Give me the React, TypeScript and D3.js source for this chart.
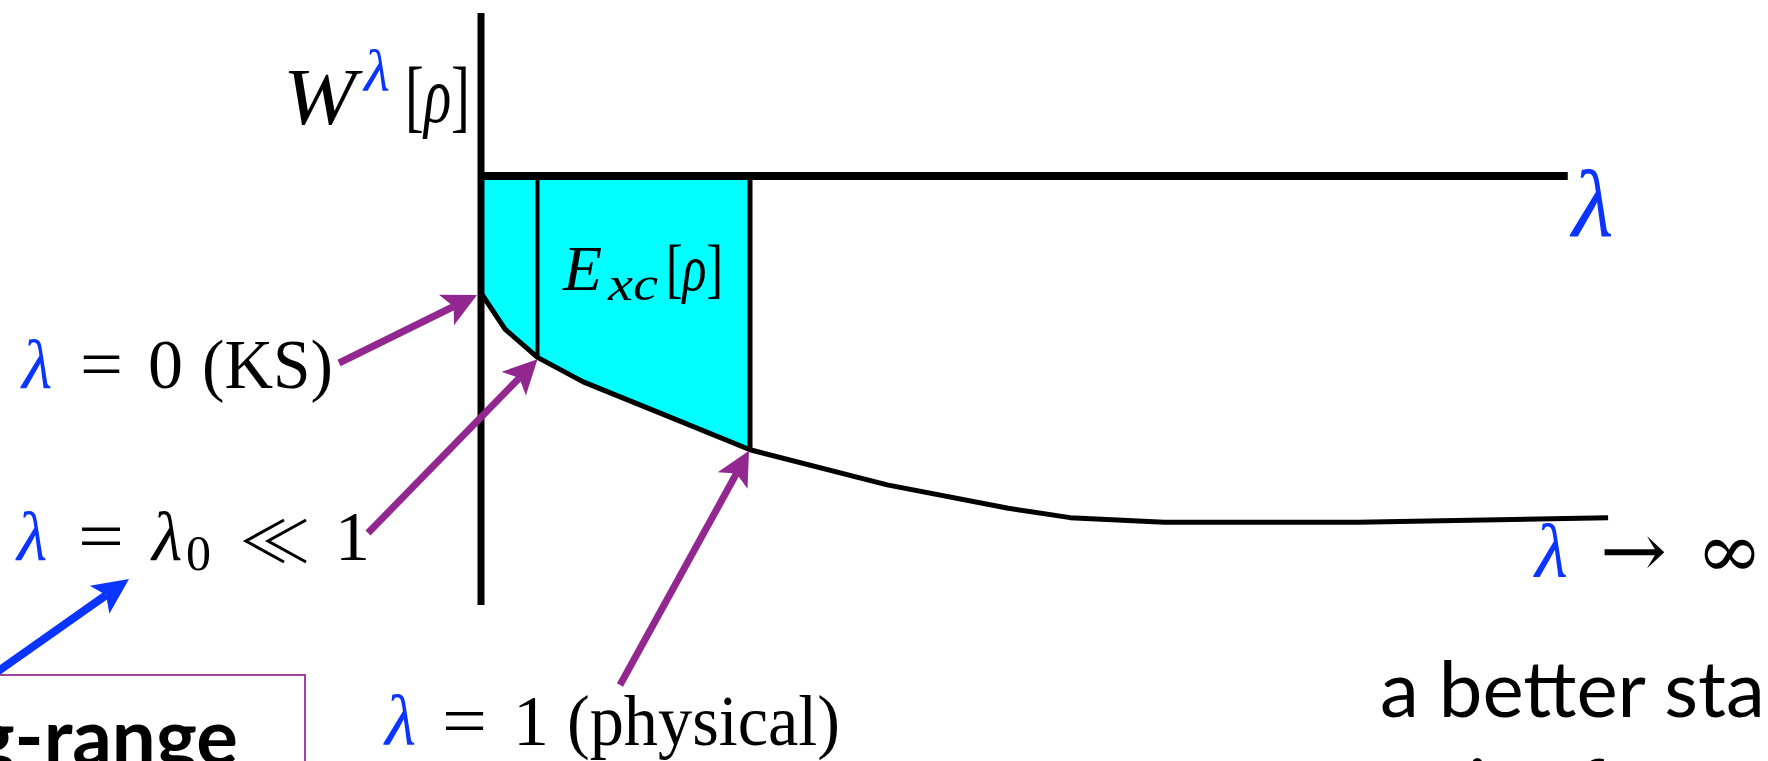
import React from 'react';
import * as d3 from 'd3';

// Adiabatic-connection integrand W^λ[ρ] sampled along the coupling constant λ
const lambdaGrid = [0, 0.09, 0.21, 0.38, 0.68, 1.0, 1.51, 1.96, 2.19, 2.54, 3.26, 4.19];
const wValues = [-1, -1.31, -1.55, -1.76, -2.04, -2.34, -2.64, -2.84, -2.92, -2.96, -2.96, -2.92];

// Marked coupling strengths
const lambdaKS = 0;
const lambdaSmall = 0.21;
const lambdaPhysical = 1.0;
const lambdaAxisEnd = 4.04;

const BLUE = '#0a34ff';
const PURPLE = '#92278f';
const CYAN = '#00ffff';
const MATH = "'Liberation Serif', 'DejaVu Serif', serif";
const SYM = "'DejaVu Serif', 'Liberation Serif', serif";
const SANS = "Lato, 'Open Sans', sans-serif";

const WIDTH = 1768;
const HEIGHT = 761;

type Pt = { l: number; w: number };

function arrow(x1: number, y1: number, x2: number, y2: number, len = 34, half = 17, notch = 8) {
  const dx = x2 - x1;
  const dy = y2 - y1;
  const L = Math.hypot(dx, dy);
  const ux = dx / L;
  const uy = dy / L;
  const px = -uy;
  const py = ux;
  const bx = x2 - ux * len;
  const by = y2 - uy * len;
  const nx = x2 - ux * (len - notch);
  const ny = y2 - uy * (len - notch);
  const head = `M${x2},${y2}L${bx + px * half},${by + py * half}L${nx},${ny}L${bx - px * half},${by - py * half}Z`;
  return { shaft: `M${x1},${y1}L${nx},${ny}`, head };
}

// "≪" drawn as two thin chevrons, as in TeX's \ll
function muchLess(x0: number, yMid: number, w: number, h: number, gap: number) {
  const c = (ox: number) => `M${ox + w},${yMid - h / 2}L${ox},${yMid}L${ox + w},${yMid + h / 2}`;
  return c(x0) + c(x0 + gap);
}

export default function App() {
  const x = d3.scaleLinear().domain([0, 1]).range([481, 750]);
  const y = d3.scaleLinear().domain([0, -1]).range([176, 293]);

  const pts: Pt[] = lambdaGrid.map((l, i) => ({ l, w: wValues[i] }));
  const wAt = (l: number) => pts.find((p) => p.l === l)!.w;

  const line = d3
    .line<Pt>()
    .x((d) => x(d.l))
    .y((d) => y(d.w));
  const area = d3
    .area<Pt>()
    .x((d) => x(d.l))
    .y0(y(0))
    .y1((d) => y(d.w));

  const shaded = pts.filter((p) => p.l <= lambdaPhysical);

  const aKS = arrow(339, 363, x(lambdaKS) - 4, y(wAt(lambdaKS)) + 2);
  const aSmall = arrow(368, 533, x(lambdaSmall), y(wAt(lambdaSmall)) + 2);
  const aPhys = arrow(620, 685, x(lambdaPhysical) - 1, y(wAt(lambdaPhysical)) + 1);
  const aBlue = arrow(-30, 691, 129, 579, 36, 17, 8);

  return (
    <svg
      width={WIDTH}
      height={HEIGHT}
      viewBox={`0 0 ${WIDTH} ${HEIGHT}`}
      style={{ position: 'absolute', left: 0, top: 0, display: 'block', background: '#fff' }}
    >
      {/* shaded exchange-correlation area between λ = 0 and λ = 1 */}
      <path d={area(shaded) ?? ''} fill={CYAN} />

      {/* W^λ curve */}
      <path d={line(pts) ?? ''} fill="none" stroke="#000" strokeWidth={5} strokeLinejoin="round" />

      {/* vertical boundaries at λ0 and λ = 1 */}
      <line
        x1={x(lambdaSmall)}
        x2={x(lambdaSmall)}
        y1={y(0)}
        y2={y(wAt(lambdaSmall))}
        stroke="#000"
        strokeWidth={4}
      />
      <line
        x1={x(lambdaPhysical)}
        x2={x(lambdaPhysical)}
        y1={y(0)}
        y2={y(wAt(lambdaPhysical))}
        stroke="#000"
        strokeWidth={5}
      />

      {/* axes */}
      <line x1={x(0)} x2={x(lambdaAxisEnd)} y1={y(0)} y2={y(0)} stroke="#000" strokeWidth={8} />
      <line x1={x(0)} x2={x(0)} y1={13} y2={605} stroke="#000" strokeWidth={7} />

      {/* axis labels */}
      <text x={283} y={124} fontFamily={MATH} fontSize={80} fontStyle="italic" textLength={73} lengthAdjust="spacingAndGlyphs">
        W
      </text>
      <text x={364} y={91} fontFamily={MATH} fontSize={60} fontStyle="italic" fill={BLUE}>
        λ
      </text>
      <text x={405} y={122} fontFamily={MATH} fontSize={80} textLength={65} lengthAdjust="spacingAndGlyphs">
        [<tspan fontStyle="italic">ρ</tspan>]
      </text>
      <text x={1572} y={236} fontFamily={MATH} fontSize={96} fontStyle="italic" fill={BLUE}>
        λ
      </text>

      {/* area label */}
      <text x={563} y={290} fontFamily={MATH} fontSize={64} fontStyle="italic">
        E
      </text>
      <text x={608} y={300} fontFamily={MATH} fontSize={48} fontStyle="italic" textLength={50} lengthAdjust="spacingAndGlyphs">
        xc
      </text>
      <text x={666} y={290} fontFamily={MATH} fontSize={66} textLength={57} lengthAdjust="spacingAndGlyphs">
        [<tspan fontStyle="italic">ρ</tspan>]
      </text>

      {/* λ = 0 (KS) */}
      <text x={22} y={388} fontFamily={MATH} fontSize={70} fontStyle="italic" fill={BLUE}>
        λ
      </text>
      <text x={80} y={388} fontFamily={MATH} fontSize={70} textLength={43} lengthAdjust="spacingAndGlyphs">
        =
      </text>
      <text x={148} y={388} fontFamily={MATH} fontSize={70}>
        0
      </text>
      <text x={202} y={388} fontFamily={MATH} fontSize={70} textLength={131} lengthAdjust="spacingAndGlyphs">
        (KS)
      </text>

      {/* λ = λ0 ≪ 1 */}
      <text x={17} y={560} fontFamily={MATH} fontSize={70} fontStyle="italic" fill={BLUE}>
        λ
      </text>
      <text x={78} y={560} fontFamily={MATH} fontSize={70} textLength={46} lengthAdjust="spacingAndGlyphs">
        =
      </text>
      <text x={152} y={560} fontFamily={MATH} fontSize={70} fontStyle="italic">
        λ
      </text>
      <text x={186} y={570} fontFamily={MATH} fontSize={50}>
        0
      </text>
      <path d={muchLess(246, 541, 38, 42, 22)} fill="none" stroke="#000" strokeWidth={3} strokeLinejoin="miter" />
      <text x={335} y={560} fontFamily={MATH} fontSize={70}>
        1
      </text>

      {/* λ = 1 (physical) */}
      <text x={385} y={745} fontFamily={MATH} fontSize={72} fontStyle="italic" fill={BLUE}>
        λ
      </text>
      <text x={442} y={745} fontFamily={MATH} fontSize={72} textLength={45} lengthAdjust="spacingAndGlyphs">
        =
      </text>
      <text x={513} y={745} fontFamily={MATH} fontSize={72}>
        1
      </text>
      <text x={567} y={745} fontFamily={MATH} fontSize={72} textLength={273} lengthAdjust="spacingAndGlyphs">
        (physical)
      </text>

      {/* λ → ∞ */}
      <text x={1535} y={577} fontFamily={MATH} fontSize={76} fontStyle="italic" fill={BLUE}>
        λ
      </text>
      <text x={1600} y={577} fontFamily={SYM} fontSize={76} textLength={67} lengthAdjust="spacingAndGlyphs">
        →
      </text>
      <text x={1696} y={577} fontFamily={SYM} fontSize={76} textLength={67} lengthAdjust="spacingAndGlyphs">
        ∞
      </text>

      {/* pointer arrows */}
      {[aKS, aSmall, aPhys].map((a, i) => (
        <g key={i}>
          <path d={a.shaft} stroke={PURPLE} strokeWidth={7} fill="none" />
          <path d={a.head} fill={PURPLE} />
        </g>
      ))}
      <path d={aBlue.shaft} stroke={BLUE} strokeWidth={8} fill="none" />
      <path d={aBlue.head} fill={BLUE} />

      {/* boxed note */}
      <rect x={-10} y={675} width={315} height={200} fill="none" stroke="#a040a0" strokeWidth={2} />
      <text x={238} y={765} fontFamily={SANS} fontSize={78} fontWeight={700} textAnchor="end">
        long-range
      </text>

      {/* side remark */}
      <text x={1380} y={717} fontFamily={SANS} fontSize={78}>
        a better starting
      </text>
      <text x={1380} y={815} fontFamily={SANS} fontSize={78}>
        point for
      </text>
    </svg>
  );
}
